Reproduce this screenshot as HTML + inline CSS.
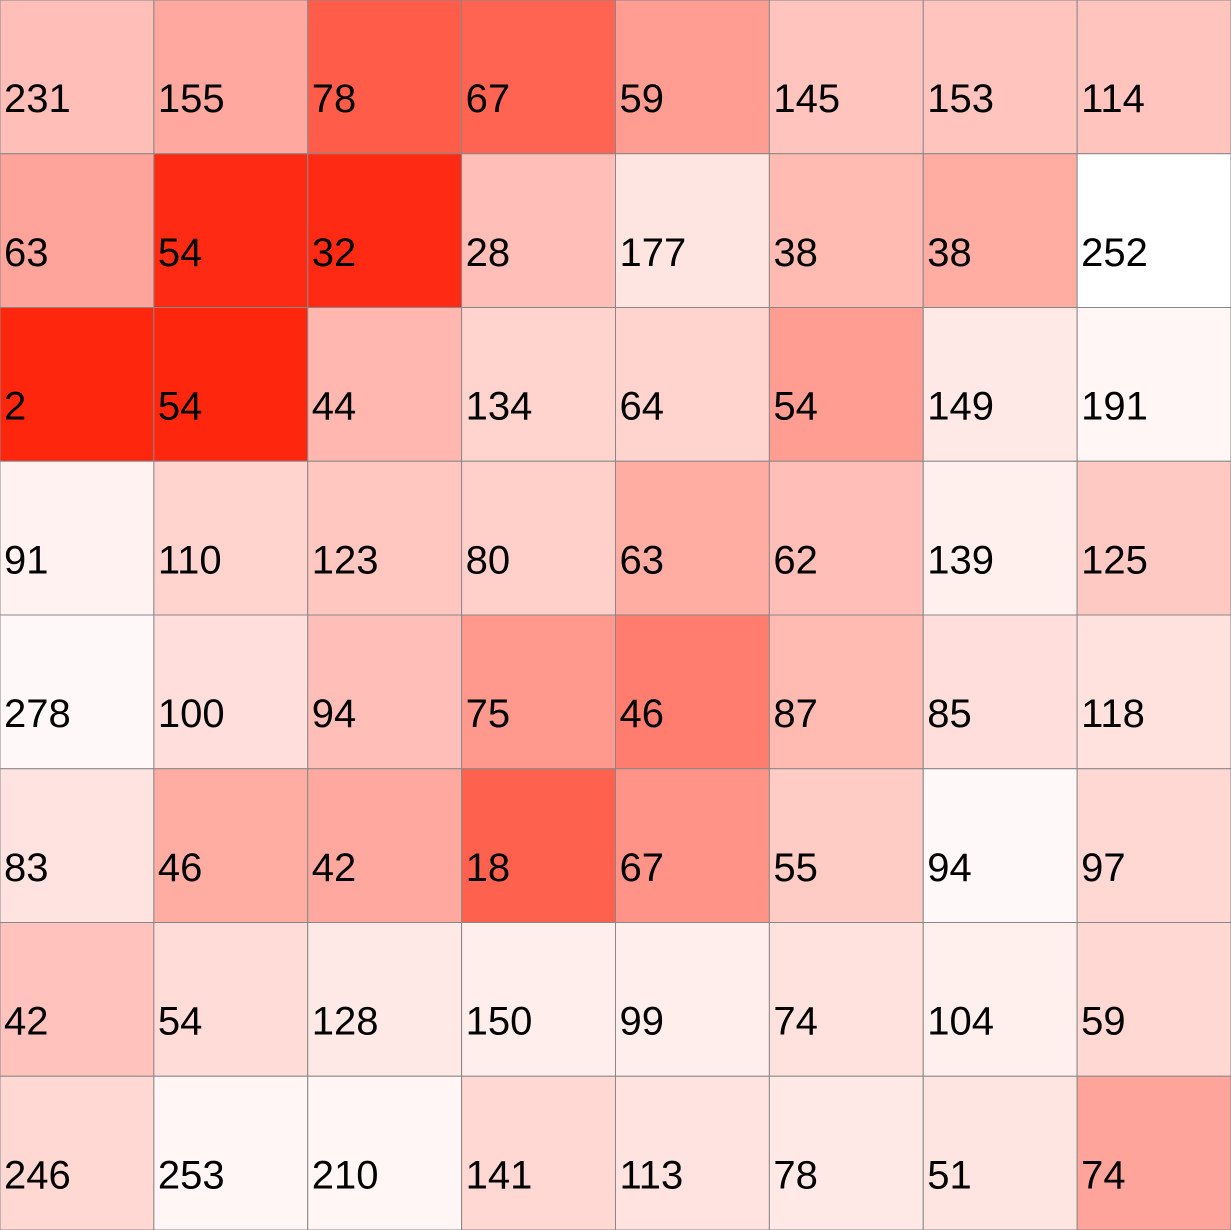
<!DOCTYPE html>
<html><head><meta charset="utf-8"><style>
html,body{margin:0;padding:0;background:#fff;}
svg{display:block;}
text{font-family:"Liberation Sans",sans-serif;font-size:40px;fill:#000;}
</style></head><body>
<svg id="chart" width="1231" height="1230" viewBox="0 0 1231 1230"></svg>
<script>
const values = [
 [231,155,78,67,59,145,153,114],
 [63,54,32,28,177,38,38,252],
 [2,54,44,134,64,54,149,191],
 [91,110,123,80,63,62,139,125],
 [278,100,94,75,46,87,85,118],
 [83,46,42,18,67,55,94,97],
 [42,54,128,150,99,74,104,59],
 [246,253,210,141,113,78,51,74]
];
const intensity = [
 [0.3,0.4,0.75,0.72,0.45,0.27,0.27,0.27],
 [0.42,0.98,0.98,0.3,0.12,0.32,0.38,0],
 [1,1,0.33,0.2,0.2,0.45,0.1,0.04],
 [0.06,0.2,0.26,0.22,0.38,0.3,0.07,0.25],
 [0.03,0.15,0.3,0.47,0.6,0.32,0.15,0.14],
 [0.13,0.38,0.4,0.73,0.5,0.24,0.03,0.18],
 [0.28,0.16,0.1,0.08,0.08,0.14,0.07,0.18],
 [0.18,0.04,0.04,0.18,0.13,0.1,0.12,0.42]
];
const svg=document.getElementById('chart');
const NS='http://www.w3.org/2000/svg';
const cw=1231/8, ch=1230/8;
const xPos=c=>c*cw, yPos=r=>r*ch;
function color(t){
  const r=255, g=Math.round(255-(255-38)*t), b=Math.round(255-(255-14)*t);
  return `rgb(${r},${g},${b})`;
}
values.forEach((row,r)=>row.forEach((v,c)=>{
  const rect=document.createElementNS(NS,'rect');
  rect.setAttribute('x',xPos(c));rect.setAttribute('y',yPos(r));
  rect.setAttribute('width',cw);rect.setAttribute('height',ch);
  rect.setAttribute('fill',color(intensity[r][c]));
  rect.setAttribute('stroke','#888');rect.setAttribute('stroke-width','1');
  
  
  svg.appendChild(rect);
  const t=document.createElementNS(NS,'text');
  t.setAttribute('x',xPos(c)+4);t.setAttribute('y',yPos(r)+112);
  t.textContent=v;
  
  
  svg.appendChild(t);
}));
</script>
</body></html>
